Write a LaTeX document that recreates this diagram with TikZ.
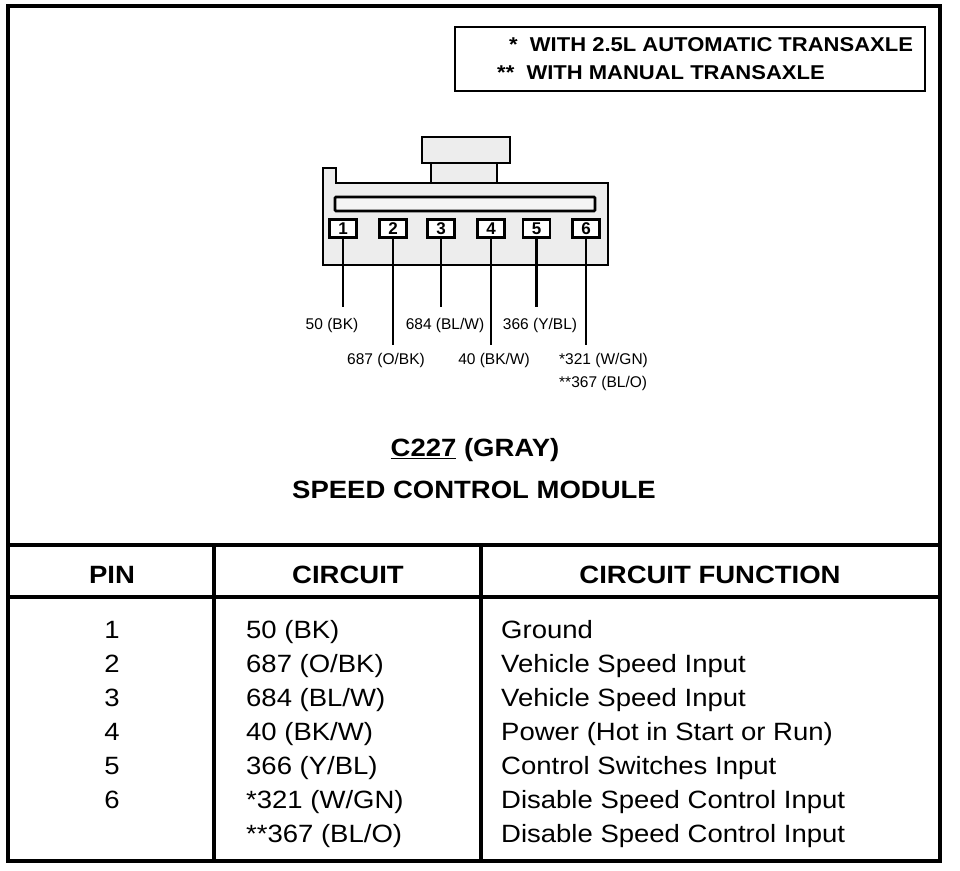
\documentclass[tikz,border=0pt]{standalone}
\usepackage{fontspec}
\setmainfont{Liberation Sans}
\newfontfamily\widefont[FakeStretch=1.1]{Liberation Sans}
\begin{document}
\begin{tikzpicture}[x=1pt,y=-1pt,
  thick line/.style={line width=2.8pt},
  pinbox/.style={draw,line width=2.6pt,fill=white,minimum width=27pt,minimum height=18pt,inner sep=0pt,font=\fontsize{17}{17}\selectfont\bfseries},
  wire/.style={line width=2.8pt},
  wlabel/.style={inner sep=1pt,font=\fontsize{15.5}{16}\selectfont},
  legend/.style={font=\widefont\fontsize{20}{22}\selectfont\bfseries,inner sep=0pt,anchor=west},
  head/.style={font=\widefont\fontsize{25}{27}\selectfont\bfseries,inner sep=0pt},
  titlef/.style={font=\widefont\fontsize{25}{27}\selectfont\bfseries,inner sep=0pt},
  cell/.style={font=\widefont\fontsize{25}{27}\selectfont,inner sep=0pt},
  shade/.style={fill=black!7}]
\useasboundingbox (0,0) rectangle (960,870);
% outer frame
\draw[line width=3.2pt] (8,6) rectangle (940,861);
% legend
\draw[line width=2.4pt] (455,27) rectangle (925,91);
\node[legend] (lg1) at (509,45) {*\ \ WITH 2.5L AUTOMATIC TRANSAXLE};
\node[legend] (lg2) at (497,73) {**\ \ WITH MANUAL TRANSAXLE};
% connector
\draw[thick line,shade] (422,137) rectangle (510,163);
\draw[thick line,shade] (431,163) rectangle (497,183);
\draw[thick line,shade] (323,168) -- (336,168) -- (336,183) -- (608,183) -- (608,265) -- (323,265) -- cycle;
\draw[line width=2.6pt,fill=black!4,rounded corners=1pt] (335,197) rectangle (595,211);
\node[pinbox] (p1) at (343,228.5) {1};
\node[pinbox] (p2) at (393,228.5) {2};
\node[pinbox] (p3) at (441,228.5) {3};
\node[pinbox] (p4) at (491,228.5) {4};
\node[pinbox] (p5) at (536.5,228.5) {5};
\node[pinbox] (p6) at (586,228.5) {6};
% wire labels
\node[wlabel] (l1) at (332,325) {50 (BK)};
\node[wlabel] (l3) at (445,325) {684 (BL/W)};
\node[wlabel] (l5) at (540,325) {366 (Y/BL)};
\node[wlabel] (l2) at (386,360) {687 (O/BK)};
\node[wlabel] (l4) at (494,360) {40 (BK/W)};
\node[wlabel,anchor=west] (l6) at (558,360) {*321 (W/GN)};
\node[wlabel,anchor=west] (l6b) at (558,383) {**367 (BL/O)};
% wires
\draw[wire] (p1.south) -- (p1.south |- 0,307);
\draw[wire] (p3.south) -- (p3.south |- 0,307);
\draw[wire] (p5.south) -- (p5.south |- 0,307);
\draw[wire] (p2.south) -- (p2.south |- 0,345);
\draw[wire] (p4.south) -- (p4.south |- 0,345);
\draw[wire] (p6.south) -- (p6.south |- 0,345);
% title
\node[titlef] (t1) at (475,450) {\underline{C227} (GRAY)};
\node[titlef] (t2) at (474,490) {SPEED CONTROL MODULE};
% table
\draw[line width=3.2pt] (8,545) -- (940,545);
\draw[line width=3.2pt] (8,597) -- (940,597);
\draw[line width=3.2pt] (214,545) -- (214,861);
\draw[line width=3.2pt] (481,545) -- (481,861);
\node[head] (h1) at (112,575) {PIN};
\node[head] (h2) at (348,575) {CIRCUIT};
\node[head] (h3) at (710,575) {CIRCUIT FUNCTION};
\foreach \n/\p/\c/\f [count=\i from 0] in {
  1/1/{50 (BK)}/{Ground},
  2/2/{687 (O/BK)}/{Vehicle Speed Input},
  3/3/{684 (BL/W)}/{Vehicle Speed Input},
  4/4/{40 (BK/W)}/{Power (Hot in Start or Run)},
  5/5/{366 (Y/BL)}/{Control Switches Input},
  6/6/{*321 (W/GN)}/{Disable Speed Control Input},
  7/{}/{**367 (BL/O)}/{Disable Speed Control Input}}{
  \node[cell,anchor=base] (pin\n) at (112,638+34*\i) {\p};
  \node[cell,anchor=base west] (cir\n) at (246,638+34*\i) {\c};
  \node[cell,anchor=base west] (fun\n) at (501,638+34*\i) {\f};
}
\end{tikzpicture}
\end{document}
